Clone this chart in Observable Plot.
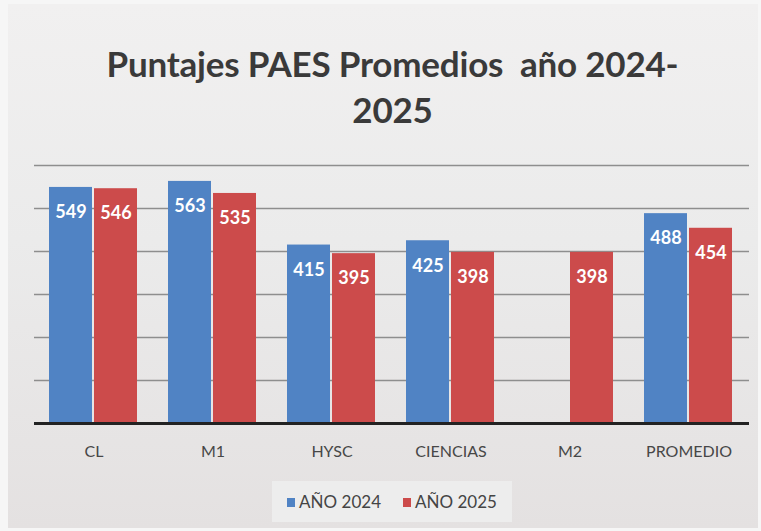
<!DOCTYPE html>
<html>
<head>
<meta charset="utf-8">
<script src="https://cdn.jsdelivr.net/npm/d3@7"></script>
<script src="https://cdn.jsdelivr.net/npm/@observablehq/plot@0.6"></script>
<style>
  html, body { margin: 0; padding: 0; }
  body { width: 761px; height: 531px; background: #f6f6f6; overflow: hidden; font-family: Lato, "Noto Sans", sans-serif; }
  #frame { position: absolute; left: 8px; top: 4px; width: 750px; height: 524px;
           background: linear-gradient(180deg, #f1f0f0 0%, #ebebeb 45%, #e4e1e1 100%); }
  #title { position: absolute; left: 12px; top: 0; width: 761px; text-align: center;
           font-family: Lato, sans-serif; font-weight: 700; font-size: 35px; line-height: 46px;
           color: #3a3a3a; padding-top: 40px; letter-spacing: -0.2px; }
  .layer { position: absolute; left: 0; top: 140px; }
  .layer svg { display: block; }
  #chart g[aria-label="fx-axis tick label"] text,
  #chart g[aria-label="fx-axis"] text { font-weight: 400; fill: #474747; }
  #legend { position: absolute; left: 272px; top: 481px; width: 240px; height: 41px;
            background: #ededed; display: flex; align-items: center; justify-content: center;
            gap: 22px; font-family: Lato, sans-serif; font-size: 17px; color: #444; }
  .sw { display: inline-block; width: 8px; height: 9px; margin-right: 4px; vertical-align: 1px; }
</style>
</head>
<body>
<div id="frame"></div>
<div id="title">Puntajes PAES Promedios&nbsp; año 2024-<br>2025</div>
<div id="grid" class="layer"></div>
<div id="chart" class="layer"></div>
<div id="base" class="layer"></div>
<div id="legend"></div>
<script>
const categories = ["CL", "M1", "HYSC", "CIENCIAS", "M2", "PROMEDIO"];
const years = ["AÑO 2024", "AÑO 2025"];
const values2024 = [549, 563, 415, 425, null, 488];
const values2025 = [546, 535, 395, 398, 398, 454];
const gridTicks = [100, 200, 300, 400, 500, 600];
const colors = ["#5083c4", "#cc4b4b"];

const data = [];
categories.forEach((c, i) => {
  if (values2024[i] != null) data.push({category: c, year: years[0], value: values2024[i]});
  if (values2025[i] != null) data.push({category: c, year: years[1], value: values2025[i]});
});

const common = {
  width: 761,
  height: 330,
  marginTop: 25,
  marginBottom: 47,
  marginLeft: 34,
  marginRight: 12,
  y: {domain: [0, 600], axis: null},
  style: {background: "transparent", fontFamily: "Lato, sans-serif", fontSize: "16px", color: "#474747"}
};

// background layer: horizontal gridlines spanning the whole plot width
const grid = Plot.plot({
  ...common,
  x: {axis: null},
  marks: [Plot.ruleY(gridTicks, {stroke: "#8e8e8e", strokeWidth: 1.6})]
});

// main layer: grouped bars
const chart = Plot.plot({
  ...common,
  fx: {domain: categories, paddingInner: 0.25, paddingOuter: 0.125, label: null, axis: "bottom", tickSize: 0, tickPadding: 22},
  x: {domain: years, axis: null, paddingInner: 0.04, paddingOuter: 0},
  color: {domain: years, range: colors},
  marks: [
    Plot.barY(data, {fx: "category", x: "year", y: "value", fill: "year"}),
    Plot.text(data, {fx: "category", x: "year", y: "value", text: d => String(d.value), dy: 25,
                     fill: "white", fontWeight: "bold", fontSize: 18})
  ]
});

// top layer: baseline
const base = Plot.plot({
  ...common,
  x: {axis: null},
  marks: [Plot.ruleY([0], {stroke: "#222", strokeWidth: 3.2})]
});

document.getElementById("grid").append(grid);
document.getElementById("chart").append(chart);
document.getElementById("base").append(base);

const legend = document.getElementById("legend");
years.forEach((y, i) => {
  const item = document.createElement("span");
  item.innerHTML = `<span class="sw" style="background:${colors[i]}"></span>${y}`;
  legend.append(item);
});
</script>
</body>
</html>
